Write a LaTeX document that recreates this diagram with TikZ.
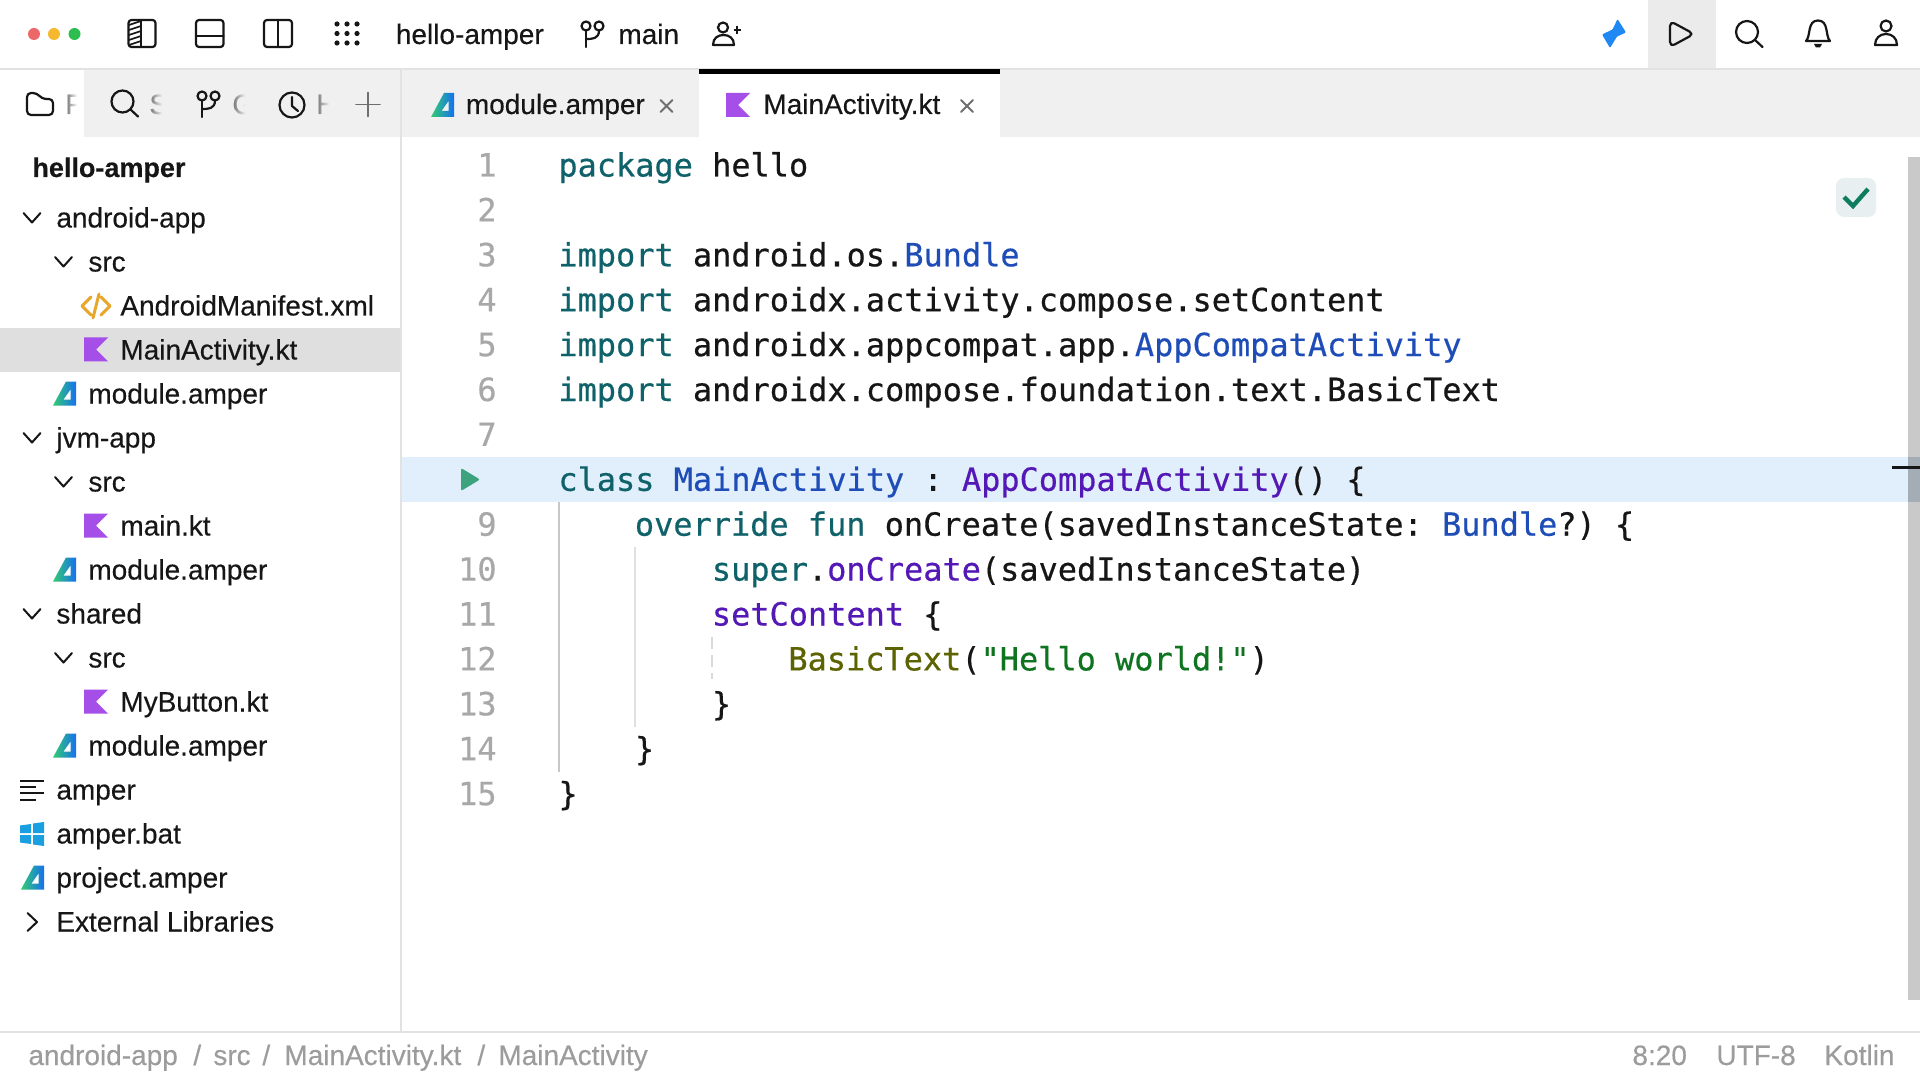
\documentclass[tikz,border=0pt]{standalone}
\usepackage{fontspec}
\usetikzlibrary{fadings}
\setmainfont[FakeBold=0.3]{Liberation Sans}
\newfontfamily\codefont[FakeBold=0.5]{DejaVu Sans Mono}

\definecolor{linegray}{HTML}{E2E2E2}
\definecolor{stripgray}{HTML}{F0F0F0}
\definecolor{selgray}{HTML}{DFDFDF}
\definecolor{hlblue}{HTML}{E1EEFB}
\definecolor{inkblack}{HTML}{161616}
\definecolor{numgray}{HTML}{A8A8A8}
\definecolor{statgray}{HTML}{9C9C9C}
\definecolor{kwteal}{HTML}{0F6269}
\definecolor{clsblue}{HTML}{1F4DB8}
\definecolor{fnpurple}{HTML}{5318B5}
\definecolor{oliveg}{HTML}{5C6300}
\definecolor{strgreen}{HTML}{0F7420}
\definecolor{kotpurple}{HTML}{A64EE8}
\definecolor{xmlorange}{HTML}{E8A72C}
\definecolor{dotred}{HTML}{EC6868}
\definecolor{dotyellow}{HTML}{F5B82E}
\definecolor{dotgreen}{HTML}{2EBD4F}
\definecolor{boltblue}{HTML}{1F88F2}
\definecolor{rungreen}{HTML}{3DA37F}
\definecolor{batblue}{HTML}{1A9FE0}
\definecolor{checkgreen}{HTML}{0E7C5E}
\definecolor{closegray}{HTML}{6E6E6E}
\definecolor{ampergreen}{HTML}{33CC70}
\definecolor{amperteal}{HTML}{22C08C}
\definecolor{amperblue}{HTML}{1670F0}

\tikzset{
	uitext/.style={anchor=base west, inner sep=0pt, font=\fontsize{14}{16}\selectfont, text=inkblack},
	stattext/.style={uitext, text=statgray},
	fadetext/.style={uitext, text=gray},
	codetext/.style={anchor=base west, inner sep=0pt, font=\codefont\frenchspacing\fontsize{15.96}{18}\selectfont, text=inkblack},
	numtext/.style={anchor=base east, inner sep=0pt, font=\codefont\fontsize{15.96}{18}\selectfont, text=numgray},
	icon/.style={draw=inkblack, line width=1.1pt, line join=round, line cap=round},
	thinicon/.style={draw=closegray, line width=0.9pt, line cap=round},
	treeicon/.style={draw=inkblack, line width=1pt, line join=round, line cap=round}
}

\newcommand{\kw}[1]{\textcolor{kwteal}{#1}}
\newcommand{\cls}[1]{\textcolor{clsblue}{#1}}
\newcommand{\fn}[1]{\textcolor{fnpurple}{#1}}

% file icons, #1 = left edge, #2 = middle of the row
\newcommand{\kotlinicon}[2]{
	\fill[kotpurple] (#1,#2-12) -- (#1+24,#2-12) -- (#1+12,#2) -- (#1+24,#2+12) -- (#1,#2+12) -- cycle;
}
\newcommand{\ampericon}[2]{
	\shade[even odd rule, shading angle=-40, left color=ampergreen, middle color=amperteal, right color=amperblue]
		(#1+13,#2-12) -- (#1+23,#2-12) -- (#1+23,#2+12) -- (#1,#2+12) -- cycle
		(#1+10.5,#2+6) -- (#1+17.5,#2+6) -- (#1+17.5,#2-4) -- cycle;
}
\newcommand{\downchev}[2]{
	\draw[treeicon] (#1-8.5,#2-4.5) -- (#1,#2+5) -- (#1+8.5,#2-4.5);
}
\newcommand{\giticon}[2]{
	\draw[icon] (#1+6,#2+5) circle (4.5) (#1+19,#2+5) circle (4.5);
	\draw[icon] (#1+6,#2+9.5) -- (#1+6,#2+26);
	\draw[icon] (#1+19,#2+9.5) .. controls (#1+19,#2+18) and (#1+12,#2+18) .. (#1+6,#2+18);
}
\newcommand{\searchicon}[2]{
	\draw[icon] (#1,#2) circle (11);
	\draw[icon] (#1+8,#2+8) -- (#1+15.5,#2+15);
}

\begin{document}
\begin{tikzpicture}[x=0.5pt,y=-0.5pt]

\useasboundingbox (0,0) rectangle (1920,1080);
\fill[white] (0,0) rectangle (1920,1080);

%bands behind everything
\fill[stripgray] (84,70) rectangle (1920,137);
\fill[white] (699,70) rectangle (1000,137);
\fill[black!8] (1648,0) rectangle (1716,68);
\fill[selgray] (0,328) rectangle (400,372);
\fill[hlblue] (402,457) rectangle (1920,502);

\draw[linegray, line width=1pt] (0,69) -- (1920,69);
\draw[linegray, line width=1pt] (401,70) -- (401,1032);
\draw[linegray, line width=1pt] (0,1032) -- (1920,1032);
\fill[black] (699,69) rectangle (1000,74);

%window dots
\fill[dotred] (34,34) circle (6);
\fill[dotyellow] (54,34) circle (6);
\fill[dotgreen] (74.5,34) circle (6);

%panel buttons
\draw[icon, rounded corners=1.5pt] (128.5,20) rectangle (155.5,47);
\draw[icon] (141,20) -- (141,47);
\foreach \k in {25,30,...,45}
	\draw[inkblack, line width=0.8pt] (129,\k) -- (141,\k-4);
\draw[icon, rounded corners=1.5pt] (196,20) rectangle (223.5,47);
\draw[icon] (196,36) -- (223.5,36);
\draw[icon, rounded corners=1.5pt] (264,20) rectangle (292,47);
\draw[icon] (278,20) -- (278,47);
\foreach \i in {337,347,357}
	\foreach \j in {24,33.5,43}
		\fill[inkblack] (\i,\j) circle (2.6);

%title row
\node[uitext] (title) at (395.5,44) {hello-amper};
\giticon{580}{21}
\node[uitext] (branch) at (618,44) {main};
\draw[icon] (723,27.5) circle (5);
\draw[icon] (713,45) .. controls (713,38) and (718,35) .. (723.5,35) .. controls (729,35) and (734,38) .. (734,45) -- cycle;
\draw[inkblack, line width=0.9pt] (733.5,30) -- (741,30) (737.2,26) -- (737.2,34);

%right hand buttons
\fill[boltblue, rounded corners=0.5pt] (1617.5,19) -- (1626,32.5) -- (1617,36.5) -- (1610,48) -- (1602,34.5) -- (1612.5,29.5) -- cycle;
\draw[icon, rounded corners=2.5pt] (1670,21) -- (1694,34) -- (1670,47) -- cycle;
\searchicon{1747}{32}
\draw[icon] (1806,41) .. controls (1811,36) and (1807,20.5) .. (1818,20.5) .. controls (1829,20.5) and (1825,36) .. (1830,41) -- cycle;
\fill[inkblack] (1814,44) -- (1822,44) -- (1820,47.5) -- (1816,47.5) -- cycle;
\draw[icon] (1886,26) circle (5.5);
\draw[icon] (1875,45) .. controls (1875,38) and (1880,34) .. (1886,34) .. controls (1892,34) and (1897,38) .. (1897,45) -- cycle;

%tool window strip
\draw[icon, rounded corners=2pt] (27,93) -- (37,93) -- (42,99) -- (53,99) -- (53,115) -- (27,115) -- cycle;
\node[fadetext] (toolf) at (65,114) {F};
\fill[white, path fading=west] (67,90) rectangle (77,120);
\fill[white] (77,90) rectangle (84,120);
\searchicon{122.5}{101.5}
\node[fadetext] (tools) at (149,114) {S};
\fill[stripgray, path fading=west] (151,90) rectangle (162,120);
\fill[stripgray] (162,90) rectangle (175,120);
\giticon{196}{91}
\node[fadetext] (toolg) at (232,114) {G};
\fill[stripgray, path fading=west] (234,90) rectangle (245,120);
\fill[stripgray] (245,90) rectangle (262,120);
\draw[icon] (292,105) circle (12.5);
\draw[icon] (292,97) -- (292,106) -- (298,111);
\node[fadetext] (toolh) at (316,114) {H};
\fill[stripgray, path fading=west] (318,90) rectangle (329,120);
\fill[stripgray] (329,90) rectangle (345,120);
\draw[thinicon] (356,104.5) -- (380,104.5) (368,92.5) -- (368,116.5);

%tabs
\ampericon{431}{105}
\node[uitext] (tabmodule) at (465.5,114) {module.amper};
\draw[thinicon] (660.5,100) -- (672.5,112) (672.5,100) -- (660.5,112);
\kotlinicon{726}{105}
\node[uitext] (tabmain) at (763,114) {MainActivity.kt};
\draw[thinicon] (961,100) -- (973,112) (973,100) -- (961,112);

%project tree
\node[uitext, font=\bfseries\fontsize{13.5}{16}\selectfont] (project) at (32,177) {hello-amper};

\foreach \rownum/\xpos/\rowlabel in {
	0/56/android-app, 1/88/src, 2/120/AndroidManifest.xml, 3/120/MainActivity.kt, 4/88/module.amper,
	5/56/jvm-app, 6/88/src, 7/120/main.kt, 8/88/module.amper,
	9/56/shared, 10/88/src, 11/120/MyButton.kt, 12/88/module.amper,
	13/56/amper, 14/56/amper.bat, 15/56/project.amper, 16/56/External Libraries}
	\node[uitext] (row\rownum) at (\xpos,{227.5+44*\rownum}) {\rowlabel};

\foreach \rowy in {217.5,437.5,613.5}
	{\downchev{32}{\rowy}}
\foreach \rowy in {261.5,481.5,657.5}
	{\downchev{63.5}{\rowy}}
\draw[treeicon] (27.5,913) -- (37,922) -- (27.5,931);

\draw[xmlorange, line width=1.5pt, line cap=round, line join=round]
	(91,297) -- (82,306) -- (91,315)
	(101,297) -- (110,306) -- (101,315)
	(99,294) -- (93,318);
\foreach \rowy in {349.5,525.5,701.5}
	{\kotlinicon{84}{\rowy}}
\foreach \rowy in {393.5,569.5,745.5}
	{\ampericon{53}{\rowy}}
\ampericon{21}{877.5}

%amper script and bat file
\draw[inkblack, line width=1pt] (20,781) -- (44,781) (20,787) -- (36,787) (20,793) -- (44,793) (20,799.5) -- (36,799.5);
\fill[batblue]
	(20,825.5) -- (31,824) -- (31,833) -- (20,833) -- cycle
	(33,823.5) -- (44,822) -- (44,833) -- (33,833) -- cycle
	(20,835) -- (31,835) -- (31,844) -- (20,842.5) -- cycle
	(33,835) -- (44,835) -- (44,846) -- (33,844.5) -- cycle;

%line numbers
\foreach \lineno in {1,...,7,9,10,...,15}
	\node[numtext] (num\lineno) at (497,{176.5+44.9*(\lineno-1)}) {\lineno};
\fill[rungreen, rounded corners=1pt] (461,468) -- (480,479.5) -- (461,491) -- cycle;

%indent guides
\draw[black!22, line width=1pt] (559,502) -- (559,772);
\draw[black!12, line width=1pt] (635,547) -- (635,727);
\draw[black!15, line width=1pt, dashed, dash pattern=on 6pt off 3pt] (712,637) -- (712,679);

%source code
\node[codetext] (code1) at (558,176.5) {\kw{package} hello};
\node[codetext] (code3) at (558,266.3) {\kw{import} android.os.\cls{Bundle}};
\node[codetext] (code4) at (558,311.2) {\kw{import} androidx.activity.compose.setContent};
\node[codetext] (code5) at (558,356.1) {\kw{import} androidx.appcompat.app.\cls{AppCompatActivity}};
\node[codetext] (code6) at (558,401) {\kw{import} androidx.compose.foundation.text.BasicText};
\node[codetext] (code8) at (558,490.8) {\kw{class} \cls{MainActivity} : \fn{AppCompatActivity}() \{};
\node[codetext] (code9) at (634.5,535.7) {\kw{override} \kw{fun} onCreate(savedInstanceState: \cls{Bundle}?) \{};
\node[codetext] (code10) at (711.5,580.6) {\kw{super}.\fn{onCreate}(savedInstanceState)};
\node[codetext] (code11) at (711.5,625.5) {\fn{setContent} \{};
\node[codetext] (code12) at (788,670.4) {\textcolor{oliveg}{BasicText}(\textcolor{strgreen}{"Hello world!"})};
\node[codetext] (code13) at (711.5,715.3) {\}};
\node[codetext] (code14) at (634.5,760.2) {\}};
\node[codetext] (code15) at (558,805.1) {\}};

%inspection badge and scrollbar
\fill[kwteal!10, rounded corners=4pt] (1836,178) rectangle (1876,217);
\draw[checkgreen, line width=2.2pt] (1844,197) -- (1853,206) -- (1868,189);
\fill[black!21] (1908,157) rectangle (1920,1000);
\fill[black!24!hlblue!85!gray] (1908,457) rectangle (1920,502);
\draw[inkblack, line width=1.5pt] (1892,467) -- (1920,467);

%status bar
\node[stattext] (crumb1) at (28,1065) {android-app};
\node[stattext] (slash1) at (193,1065) {/};
\node[stattext] (crumb2) at (213,1065) {src};
\node[stattext] (slash2) at (262,1065) {/};
\node[stattext] (crumb3) at (284,1065) {MainActivity.kt};
\node[stattext] (slash3) at (477,1065) {/};
\node[stattext] (crumb4) at (498,1065) {MainActivity};
\node[stattext] (caret) at (1632,1065) {8:20};
\node[stattext] (encoding) at (1716,1065) {UTF-8};
\node[stattext] (language) at (1824,1065) {Kotlin};

\end{tikzpicture}
\end{document}
